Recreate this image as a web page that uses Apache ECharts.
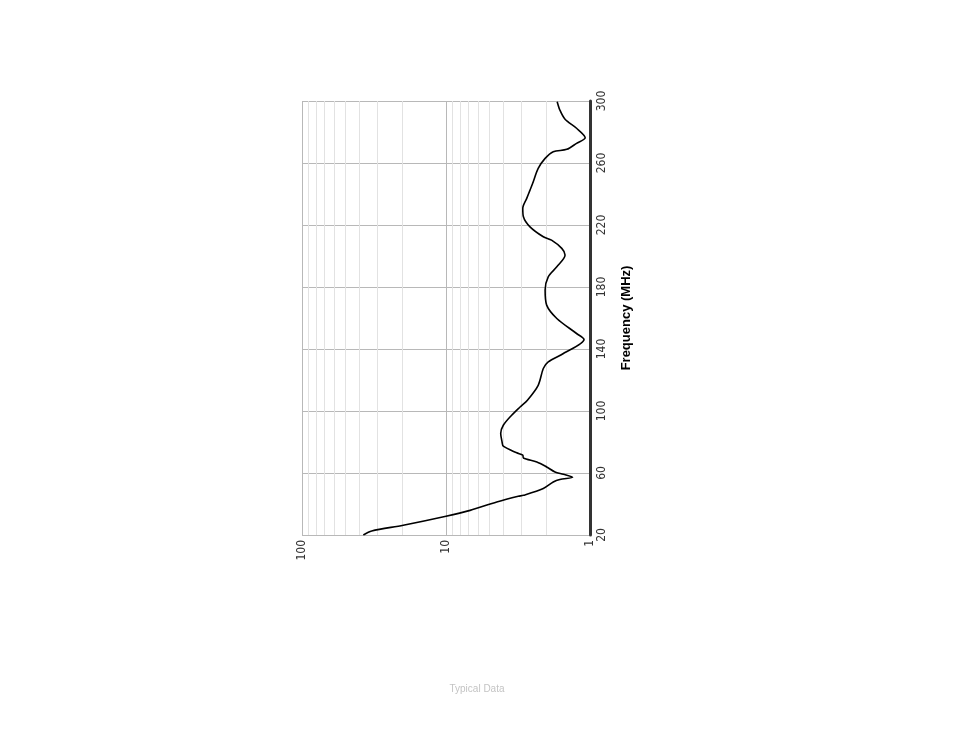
<!DOCTYPE html>
<html>
<head>
<meta charset="utf-8">
<script src="https://cdn.jsdelivr.net/npm/echarts@6/dist/echarts.min.js"></script>
<style>
  html, body { margin: 0; padding: 0; background: #fff; }
  #main { width: 954px; height: 738px; }
</style>
</head>
<body>
<div id="main"></div>
<script>
var freqMHz = [20, 22.6, 26.3, 32.1, 35.9, 41.3, 45, 45.6, 50, 54.2, 55.8, 57.2, 59.2, 60.7, 63.9, 67.1,
  69.7, 71.5, 73, 77.3, 80, 85.5, 90.8, 97.3, 102.6, 107, 116.6, 127.4, 131.7, 137.1, 146.1, 150,
  159.7, 168.3, 178, 186.6, 193, 200.6, 204.9, 210.2, 212.4, 218.8, 225.3, 230.7, 237.2, 242.5,
  246.9, 256.5, 263, 267.3, 268.8, 272.7, 276.3, 282.4, 288.2, 294.2, 299.5];
var values = [37.5, 32.8, 19.8, 10, 6.8, 4.44, 3.15, 2.9, 2.11, 1.8, 1.62, 1.32, 1.53, 1.75, 2.0, 2.34,
  2.9, 2.93, 3.23, 4.0, 4.08, 4.17, 4.0, 3.5, 3.06, 2.72, 2.29, 2.11, 1.95, 1.53, 1.1, 1.24,
  1.7, 2.0, 2.05, 1.95, 1.7, 1.49, 1.57, 1.85, 2.11, 2.61, 2.9, 2.93, 2.75, 2.61,
  2.5, 2.29, 2.05, 1.8, 1.45, 1.24, 1.08, 1.24, 1.49, 1.62, 1.69];
// minor log grid lines
var minorGrid = [2, 3, 4, 5, 6, 7, 8, 9, 20, 30, 40, 50, 60, 70, 80, 90];

var chart = echarts.init(document.getElementById('main'));
var pts = [];
for (var i = 0; i < freqMHz.length; i++) {
  pts.push([values[i], freqMHz[i]]);
}
var font = '"Liberation Sans", Arial, sans-serif';
var narrow = '"Liberation Sans Narrow", "DejaVu Sans Condensed", "Liberation Sans", sans-serif';

chart.setOption({
  animation: false,
  backgroundColor: '#fff',
  title: {
    text: 'Typical Data',
    left: 'center',
    top: 679,
    textStyle: { fontSize: 10, fontWeight: 'normal', color: '#c4c4c4', fontFamily: font }
  },
  grid: { left: 302, right: 364, top: 101, bottom: 203, containLabel: false },
  xAxis: {
    type: 'log',
    logBase: 10,
    min: 1,
    max: 100,
    inverse: true,
    axisLine: { show: false },
    axisTick: { show: false },
    axisLabel: {
      rotate: 90,
      align: 'right',
      verticalAlign: 'middle',
      margin: 5,
      fontSize: 12,
      color: '#333',
      fontFamily: narrow
    },
    splitLine: { show: true, lineStyle: { color: '#b8b8b8', width: 1 } }
  },
  yAxis: {
    type: 'value',
    position: 'right',
    min: 20,
    max: 300,
    interval: 40,
    name: 'Frequency (MHz)',
    nameLocation: 'middle',
    nameRotate: 90,
    nameGap: 30,
    nameTextStyle: { fontSize: 13, fontWeight: 'bold', color: '#000', fontFamily: font, verticalAlign: 'top' },
    axisLine: { show: true, lineStyle: { color: '#333', width: 3 } },
    axisTick: { show: false },
    axisLabel: {
      rotate: 90,
      align: 'center',
      verticalAlign: 'top',
      margin: 6,
      fontSize: 12,
      color: '#333',
      fontFamily: narrow
    },
    splitLine: { show: true, lineStyle: { color: '#b8b8b8', width: 1 } }
  },
  series: [
    {
      type: 'line',
      data: [],
      z: 1,
      silent: true,
      markLine: {
        z: 1,
        silent: true,
        animation: false,
        symbol: 'none',
        label: { show: false },
        emphasis: { disabled: true },
        lineStyle: { color: '#e2e2e2', width: 1, type: 'solid' },
        data: minorGrid.map(function (v) { return { xAxis: v }; })
      }
    },
    {
      type: 'line',
      data: pts,
      z: 10,
      smooth: 0.3,
      showSymbol: false,
      lineStyle: { color: '#000', width: 1.6 }
    }
  ]
});
</script>
</body>
</html>
